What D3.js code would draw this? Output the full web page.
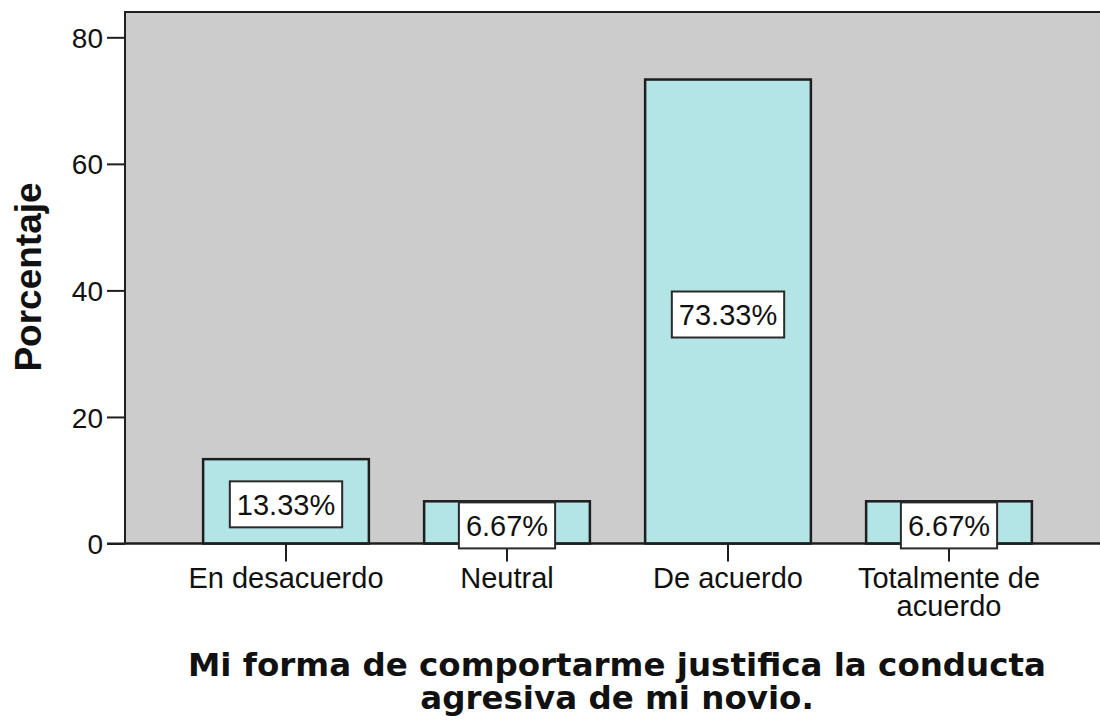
<!DOCTYPE html>
<meta charset="utf-8">
<title>Mi forma de comportarme justifica la conducta agresiva de mi novio.</title>
<style type="text/css">
  body { margin: 0; background: #ffffff; }
  .tick text { font-family: "Liberation Sans", Arial, sans-serif; }
</style>
<body>
<script src="https://d3js.org/d3.v7.min.js"></script>
<div id="chart"></div>
<script>
// data
var categories = ["En desacuerdo", "Neutral", "De acuerdo", "Totalmente de acuerdo"];
var percents = [13.33, 6.67, 73.33, 6.67];
var yTicks = [0, 20, 40, 60, 80];
var yTitle = "Porcentaje";
var xTitle = ["Mi forma de comportarme justifica la conducta", "agresiva de mi novio."];

var W = 1100, H = 721;
// plot frame
var plotLeft = 125, plotTop = 12, plotRight = 1102, plotBottom = 543.5;

var svg = d3.select("#chart")
  .append("svg")
    .attr("width", W)
    .attr("height", H);

// scales
var x = d3.scaleBand()
  .domain(categories)
  .range([175.5, 1059.5])
  .paddingInner(0.25)
  .paddingOuter(0.125);

var y = d3.scaleLinear()
  .domain([0, 84])
  .range([plotBottom, plotTop]);

// grey plot background
svg.append("rect")
  .attr("x", plotLeft).attr("y", plotTop)
  .attr("width", plotRight - plotLeft).attr("height", plotBottom - plotTop)
  .attr("fill", "#cccccc")
  .attr("stroke", "#1e1e1e")
  .attr("stroke-width", 2);

// bars
svg.selectAll("rect.bar")
  .data(percents)
  .enter()
  .append("rect")
    .attr("class", "bar")
    .attr("x", function(d, i) { return x(categories[i]); })
    .attr("y", function(d) { return y(d); })
    .attr("width", x.bandwidth())
    .attr("height", function(d) { return y(0) - y(d); })
    .attr("fill", "#b3e5e6")
    .attr("stroke", "#1e1e1e")
    .attr("stroke-width", 2.5);

// y axis
var yAxis = svg.append("g")
  .attr("transform", "translate(" + plotLeft + ",0)")
  .call(d3.axisLeft(y).tickValues(yTicks).tickSize(18).tickPadding(4).tickFormat(d3.format("d")));
yAxis.select(".domain").remove();
yAxis.selectAll(".tick line").attr("stroke", "#1e1e1e").attr("stroke-width", 2);
yAxis.selectAll(".tick text")
  .attr("font-size", 28)
  .attr("fill", "#111")
  .attr("dy", "0.36em");

// x axis
var xAxis = svg.append("g")
  .attr("transform", "translate(0," + plotBottom + ")")
  .call(d3.axisBottom(x).tickSize(18).tickPadding(6));
xAxis.select(".domain").remove();
xAxis.selectAll(".tick line").attr("stroke", "#1e1e1e").attr("stroke-width", 2);
xAxis.selectAll(".tick text")
  .attr("font-size", 29)
  .attr("fill", "#111")
  .call(wrap, x.step() - 10);

// bottom axis line, running out to the left tick
svg.append("line")
  .attr("x1", plotLeft - 18).attr("x2", plotRight)
  .attr("y1", plotBottom).attr("y2", plotBottom)
  .attr("stroke", "#1e1e1e")
  .attr("stroke-width", 2);

// value labels in white boxes
var labels = svg.selectAll("g.lab")
  .data(percents)
  .enter()
  .append("g")
    .attr("class", "lab")
    .attr("transform", function(d, i) {
      return "translate(" + (x(categories[i]) + x.bandwidth() / 2) + "," + ((y(d) + y(0)) / 2 + 3) + ")";
    });

labels.append("text")
  .attr("text-anchor", "middle")
  .attr("dy", "0.36em")
  .attr("font-family", "Liberation Sans, Arial, sans-serif")
  .attr("font-size", 29)
  .attr("fill", "#111")
  .text(function(d) { return d3.format(".2f")(d) + "%"; });

labels.each(function() {
  var g = d3.select(this);
  var bb = g.select("text").node().getBBox();
  g.insert("rect", "text")
    .attr("x", bb.x - 7)
    .attr("y", -23)
    .attr("width", bb.width + 14)
    .attr("height", 46)
    .attr("fill", "#ffffff")
    .attr("stroke", "#2a2a2a")
    .attr("stroke-width", 2);
});

// axis titles
svg.append("text")
  .attr("transform", "translate(41,277) rotate(-90)")
  .attr("text-anchor", "middle")
  .attr("font-family", "Liberation Sans, Arial, sans-serif")
  .attr("font-weight", "bold")
  .attr("font-size", 37)
  .attr("fill", "#111")
  .text(yTitle);

svg.append("text")
  .attr("text-anchor", "middle")
  .attr("font-family", "DejaVu Sans, Verdana, sans-serif")
  .attr("font-weight", "bold")
  .attr("font-size", 32.5)
  .attr("fill", "#111")
  .selectAll("tspan")
  .data(xTitle)
  .enter()
  .append("tspan")
    .attr("x", 617)
    .attr("y", function(d, i) { return 676 + i * 33; })
    .text(function(d) { return d; });

// split long tick labels over lines
function wrap(text, width) {
  text.each(function() {
    var t = d3.select(this),
        words = t.text().split(/\s+/),
        line = [],
        lineNo = 0,
        yPos = t.attr("y"),
        tspan = t.text(null).append("tspan").attr("x", 0).attr("y", yPos).attr("dy", "0.71em");
    words.forEach(function(w) {
      line.push(w);
      tspan.text(line.join(" "));
      if (tspan.node().getComputedTextLength() > width && line.length > 1) {
        line.pop();
        tspan.text(line.join(" "));
        line = [w];
        lineNo++;
        tspan = t.append("tspan").attr("x", 0).attr("y", yPos)
          .attr("dy", (0.71 + lineNo * 0.95) + "em").text(w);
      }
    });
  });
}
</script>
</body>
